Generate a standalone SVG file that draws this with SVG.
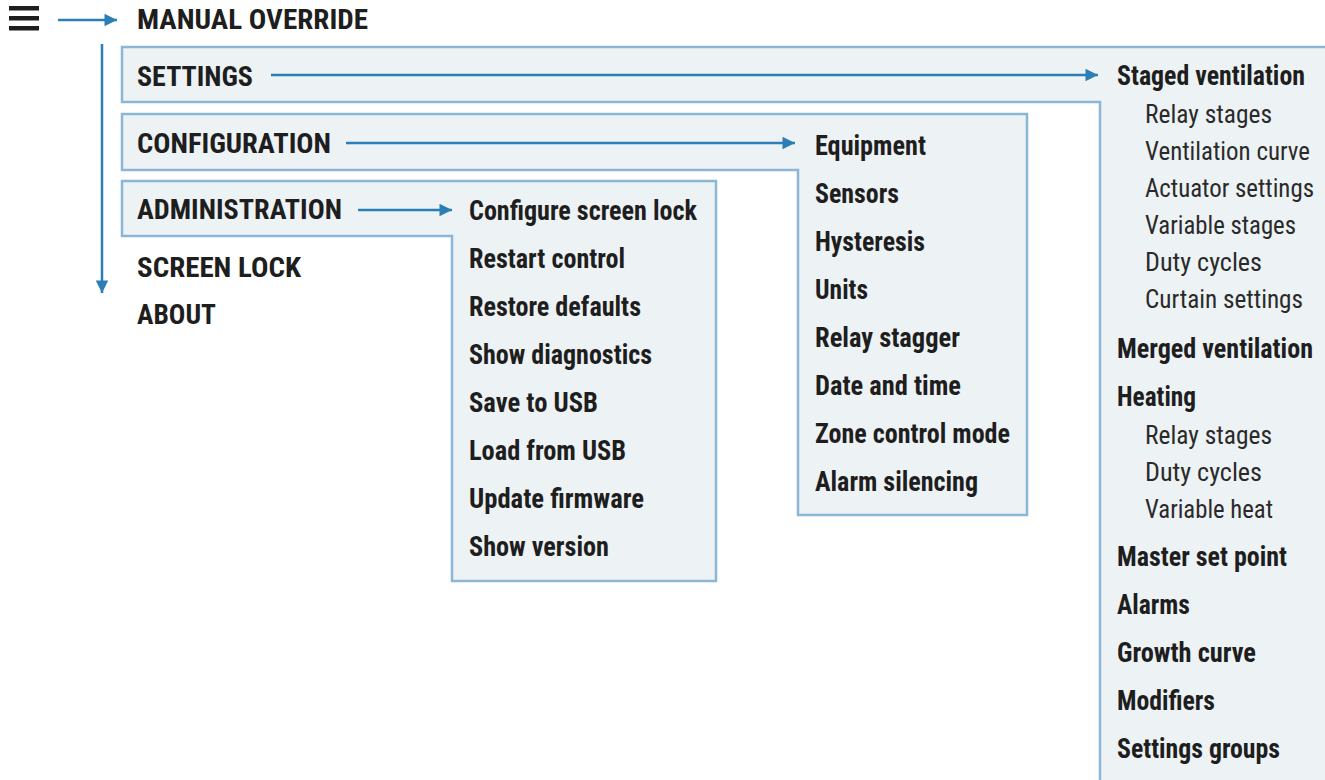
<svg xmlns="http://www.w3.org/2000/svg" width="1325" height="780" viewBox="0 0 1325 780">
<defs>
<style>
.panel{fill:#edf2f5;stroke:#8cb6d6;stroke-width:2.5}
.b{font-family:"Liberation Sans Narrow","Roboto Condensed","DejaVu Sans Condensed","Liberation Sans",sans-serif;font-weight:bold;font-size:27px;fill:#1e1e1e}
.r{font-family:"Liberation Sans Narrow","Roboto Condensed","DejaVu Sans Condensed","Liberation Sans",sans-serif;font-size:25px;fill:#2a2a2a}
.c{stroke:#2b7fb6;stroke-width:2.5;fill:none}
</style>
<marker id="ah" viewBox="0 0 10 10" refX="10" refY="5" markerWidth="6" markerHeight="5" markerUnits="strokeWidth" orient="auto">
<path d="M0,0 L10,5 L0,10 z" fill="#2b7fb6"/>
</marker>
</defs>
<rect width="1325" height="780" fill="#ffffff"/>
<g id="menu-icon" fill="#1e1e1e">
<rect x="9" y="6" width="30" height="4.5"/>
<rect x="9" y="16" width="30" height="4.5"/>
<rect x="9" y="26" width="30" height="4.5"/>
</g>
<g id="settings">
<polygon class="panel" points="122,47 1330,47 1330,790 1100,790 1100,102 122,102"/>
</g>
<g id="configuration">
<polygon class="panel" points="122,114 1027,114 1027,515 798,515 798,170 122,170"/>
</g>
<g id="administration">
<polygon class="panel" points="122,181 716,181 716,581 452,581 452,236 122,236"/>
</g>
<g id="connectors">
<line class="c" x1="58" y1="20" x2="117" y2="20" marker-end="url(#ah)"/>
<line class="c" x1="102" y1="44" x2="102" y2="293" marker-end="url(#ah)"/>
<line class="c" x1="271" y1="75" x2="1098" y2="75" marker-end="url(#ah)"/>
<line class="c" x1="346" y1="143" x2="795" y2="143" marker-end="url(#ah)"/>
<line class="c" x1="358" y1="210" x2="452" y2="210" marker-end="url(#ah)"/>
</g>
<g id="main-menu">
<text class="b" x="137" y="29" textLength="231" lengthAdjust="spacingAndGlyphs">MANUAL OVERRIDE</text>
<text class="b" x="137" y="86" textLength="116" lengthAdjust="spacingAndGlyphs">SETTINGS</text>
<text class="b" x="137" y="153" textLength="194" lengthAdjust="spacingAndGlyphs">CONFIGURATION</text>
<text class="b" x="137" y="219" textLength="205" lengthAdjust="spacingAndGlyphs">ADMINISTRATION</text>
<text class="b" x="137" y="277" textLength="164" lengthAdjust="spacingAndGlyphs">SCREEN LOCK</text>
<text class="b" x="137" y="324" textLength="79" lengthAdjust="spacingAndGlyphs">ABOUT</text>
</g>
<g id="administration-items">
<text class="b" x="469" y="220" textLength="228" lengthAdjust="spacingAndGlyphs">Configure screen lock</text>
<text class="b" x="469" y="268" textLength="156" lengthAdjust="spacingAndGlyphs">Restart control</text>
<text class="b" x="469" y="316" textLength="172" lengthAdjust="spacingAndGlyphs">Restore defaults</text>
<text class="b" x="469" y="364" textLength="183" lengthAdjust="spacingAndGlyphs">Show diagnostics</text>
<text class="b" x="469" y="412" textLength="129" lengthAdjust="spacingAndGlyphs">Save to USB</text>
<text class="b" x="469" y="460" textLength="157" lengthAdjust="spacingAndGlyphs">Load from USB</text>
<text class="b" x="469" y="508" textLength="175" lengthAdjust="spacingAndGlyphs">Update firmware</text>
<text class="b" x="469" y="556" textLength="140" lengthAdjust="spacingAndGlyphs">Show version</text>
</g>
<g id="configuration-items">
<text class="b" x="815" y="155" textLength="111" lengthAdjust="spacingAndGlyphs">Equipment</text>
<text class="b" x="815" y="203" textLength="84" lengthAdjust="spacingAndGlyphs">Sensors</text>
<text class="b" x="815" y="251" textLength="110" lengthAdjust="spacingAndGlyphs">Hysteresis</text>
<text class="b" x="815" y="299" textLength="53" lengthAdjust="spacingAndGlyphs">Units</text>
<text class="b" x="815" y="347" textLength="145" lengthAdjust="spacingAndGlyphs">Relay stagger</text>
<text class="b" x="815" y="395" textLength="146" lengthAdjust="spacingAndGlyphs">Date and time</text>
<text class="b" x="815" y="443" textLength="195" lengthAdjust="spacingAndGlyphs">Zone control mode</text>
<text class="b" x="815" y="491" textLength="163" lengthAdjust="spacingAndGlyphs">Alarm silencing</text>
</g>
<g id="settings-items">
<text class="b" x="1117" y="85" textLength="188" lengthAdjust="spacingAndGlyphs">Staged ventilation</text>
<text class="r" x="1145" y="123" textLength="127" lengthAdjust="spacingAndGlyphs">Relay stages</text>
<text class="r" x="1145" y="160" textLength="165" lengthAdjust="spacingAndGlyphs">Ventilation curve</text>
<text class="r" x="1145" y="197" textLength="169" lengthAdjust="spacingAndGlyphs">Actuator settings</text>
<text class="r" x="1145" y="234" textLength="151" lengthAdjust="spacingAndGlyphs">Variable stages</text>
<text class="r" x="1145" y="271" textLength="117" lengthAdjust="spacingAndGlyphs">Duty cycles</text>
<text class="r" x="1145" y="308" textLength="158" lengthAdjust="spacingAndGlyphs">Curtain settings</text>
<text class="b" x="1117" y="358" textLength="196" lengthAdjust="spacingAndGlyphs">Merged ventilation</text>
<text class="b" x="1117" y="406" textLength="79" lengthAdjust="spacingAndGlyphs">Heating</text>
<text class="r" x="1145" y="444" textLength="127" lengthAdjust="spacingAndGlyphs">Relay stages</text>
<text class="r" x="1145" y="481" textLength="117" lengthAdjust="spacingAndGlyphs">Duty cycles</text>
<text class="r" x="1145" y="518" textLength="128" lengthAdjust="spacingAndGlyphs">Variable heat</text>
<text class="b" x="1117" y="566" textLength="170" lengthAdjust="spacingAndGlyphs">Master set point</text>
<text class="b" x="1117" y="614" textLength="73" lengthAdjust="spacingAndGlyphs">Alarms</text>
<text class="b" x="1117" y="662" textLength="139" lengthAdjust="spacingAndGlyphs">Growth curve</text>
<text class="b" x="1117" y="710" textLength="98" lengthAdjust="spacingAndGlyphs">Modifiers</text>
<text class="b" x="1117" y="758" textLength="163" lengthAdjust="spacingAndGlyphs">Settings groups</text>
</g>
</svg>
